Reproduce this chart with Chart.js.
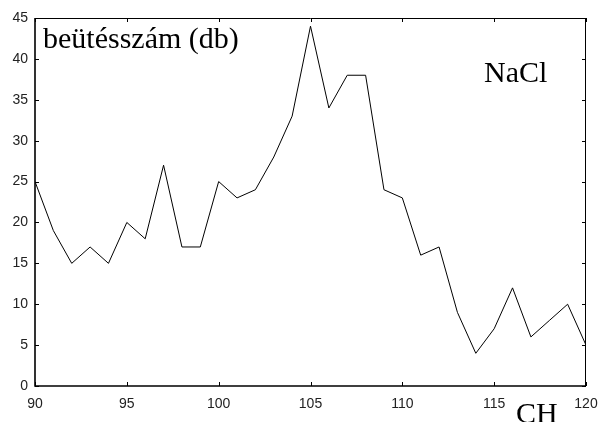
<!DOCTYPE html>
<html>
<head>
<meta charset="utf-8">
<script src="https://cdn.jsdelivr.net/npm/chart.js@4/dist/chart.umd.min.js"></script>
<style>
  html, body { margin: 0; padding: 0; background: #fff; }
  #wrap { width: 600px; height: 422px; position: relative; }
</style>
</head>
<body>
<div id="wrap"><canvas id="c" width="600" height="422"></canvas></div>
<script>
// Spectrum: counts per channel
const channels = [90, 91, 92, 93, 94, 95, 96, 97, 98, 99, 100, 101, 102, 103, 104, 105,
                  106, 107, 108, 109, 110, 111, 112, 113, 114, 115, 116, 117, 118, 119, 120];
const counts   = [25, 19, 15, 17, 15, 20, 18, 27, 17, 17, 25, 23, 24, 28, 33, 44,
                  34, 38, 38, 24, 23, 16, 17, 9, 4, 7, 12, 6, 8, 10, 5];
const xTicks = [90, 95, 100, 105, 110, 115, 120];
const yTicks = [0, 5, 10, 15, 20, 25, 30, 35, 40, 45];

const yLabel = 'beütésszám (db)';
const xLabel = 'CH';
const sampleLabel = 'NaCl';

const points = channels.map((ch, i) => ({ x: ch, y: counts[i] }));

// Frame with inward tick marks on all four sides, plus the text labels
const framePlugin = {
  id: 'frame',
  afterDraw(chart) {
    const { ctx, chartArea: a, scales } = chart;
    const xs = scales.x, ys = scales.y;
    const tl = 4;
    ctx.save();
    ctx.strokeStyle = '#000';
    // top and right edges
    ctx.lineWidth = 1;
    ctx.beginPath();
    ctx.moveTo(a.left, a.top + 0.5);
    ctx.lineTo(a.right, a.top + 0.5);
    ctx.moveTo(a.right - 0.5, a.top);
    ctx.lineTo(a.right - 0.5, a.bottom);
    ctx.stroke();
    // left and bottom axes
    ctx.lineWidth = 1.6;
    ctx.beginPath();
    ctx.moveTo(a.left, a.top);
    ctx.lineTo(a.left, a.bottom);
    ctx.lineTo(a.right, a.bottom);
    ctx.stroke();
    // ticks
    ctx.lineWidth = 1;
    ctx.beginPath();
    xTicks.forEach(v => {
      const px = Math.round(xs.getPixelForValue(v)) + 0.5;
      ctx.moveTo(px, a.bottom); ctx.lineTo(px, a.bottom - tl);
      ctx.moveTo(px, a.top);    ctx.lineTo(px, a.top + tl);
    });
    yTicks.forEach(v => {
      const py = Math.round(ys.getPixelForValue(v)) + 0.5;
      ctx.moveTo(a.left, py);  ctx.lineTo(a.left + tl, py);
      ctx.moveTo(a.right, py); ctx.lineTo(a.right - tl, py);
    });
    ctx.stroke();

    // labels
    ctx.fillStyle = '#000';
    ctx.textAlign = 'left';
    ctx.textBaseline = 'alphabetic';
    ctx.font = '30px "Liberation Serif", "Times New Roman", serif';
    ctx.fillText(yLabel, 43, 48);
    ctx.fillText(sampleLabel, 484, 82);
    ctx.fillText(xLabel, 516, 423);
    ctx.restore();
  }
};

const tickFont = { family: '"Liberation Sans", Arial, sans-serif', size: 14 };

new Chart(document.getElementById('c'), {
  type: 'line',
  data: {
    datasets: [{
      data: points,
      borderColor: '#000',
      borderWidth: 1,
      pointRadius: 0,
      tension: 0,
      fill: false
    }]
  },
  options: {
    responsive: false,
    animation: false,
    devicePixelRatio: 1,
    layout: { padding: { top: 18, right: 14, left: 0, bottom: 0 } },
    plugins: { legend: { display: false }, tooltip: { enabled: false } },
    scales: {
      x: {
        type: 'linear',
        min: 90, max: 120,
        afterBuildTicks: s => { s.ticks = xTicks.map(v => ({ value: v })); },
        afterFit: s => { s.height = 36; s.paddingLeft = 0; s.paddingRight = 0; },
        grid: { display: false, drawTicks: false },
        border: { display: false },
        ticks: { font: tickFont, color: '#222', padding: 10, maxRotation: 0, autoSkip: false }
      },
      y: {
        type: 'linear',
        min: 0, max: 45,
        afterBuildTicks: s => { s.ticks = yTicks.map(v => ({ value: v })); },
        afterFit: s => { s.width = 35; s.paddingTop = 0; s.paddingBottom = 0; },
        grid: { display: false, drawTicks: false },
        border: { display: false },
        ticks: { font: tickFont, color: '#222', padding: 7 }
      }
    }
  },
  plugins: [framePlugin]
});
</script>
</body>
</html>
